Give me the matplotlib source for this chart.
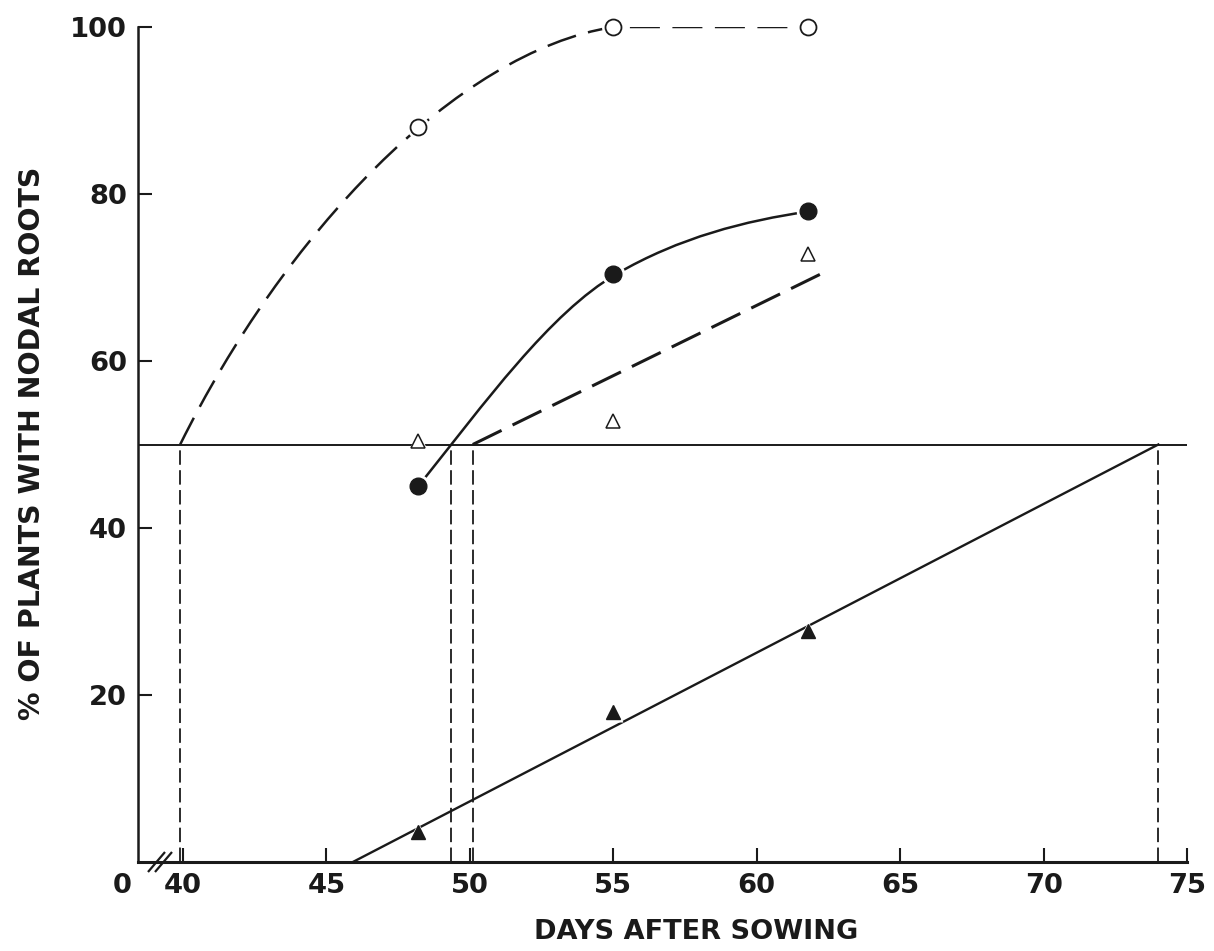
import matplotlib
matplotlib.use("Agg")
import matplotlib.pyplot as plt
from matplotlib.path import Path
from matplotlib.patches import PathPatch

# ---------------- data ----------------
days_measured = [48.2, 55.0, 61.8]
open_circle_pct = [88.0, 100.0, 100.0]
filled_circle_pct = [45.0, 70.4, 78.0]
open_triangle_pct = [50.4, 52.8, 72.8]
filled_triangle_pct = [3.6, 18.0, 27.7]

x_ticks = [40, 45, 50, 55, 60, 65, 70, 75]
y_ticks = [20, 40, 60, 80, 100]

threshold_pct = 50
days_to_50pct = [39.9, 49.35, 50.1, 74.0]

# fitted curves (Bezier control points, data units)
open_circle_curve_x = [39.9, 43.5, 49.5, 55.0, 61.8]
open_circle_curve_y = [50.0, 75.0, 97.0, 100.0, 100.0]
filled_circle_curve_x = [48.2, 50.5, 52.8, 55.1, 57.3, 59.6, 61.8]
filled_circle_curve_y = [45.0, 54.9, 65.8, 70.4, 74.8, 76.8, 77.9]
open_triangle_line_x = [50.1, 62.4]
open_triangle_line_y = [50.0, 70.7]
filled_triangle_line_x = [45.92, 74.0]
filled_triangle_line_y = [0.0, 50.0]

x_label = "DAYS AFTER SOWING"
y_label = "% OF PLANTS WITH NODAL ROOTS"

# ---------------- figure ----------------
INK = "#1a1a1a"
plt.rcParams["font.family"] = ["DejaVu Sans"]
plt.rcParams["font.weight"] = "bold"

fig = plt.figure(figsize=(12.14, 9.51), dpi=100)
ax = fig.add_axes([138 / 1214, 89 / 951, 1049 / 1214, 835 / 951])
ax.set_xlim(38.43, 75)
ax.set_ylim(0, 100)

for s in ["top", "right"]:
    ax.spines[s].set_visible(False)
ax.spines["left"].set_linewidth(1.8)
ax.spines["bottom"].set_linewidth(2.2)
ax.spines["left"].set_color(INK)
ax.spines["bottom"].set_color(INK)

ax.set_xticks(x_ticks)
ax.set_xticklabels([str(t) for t in x_ticks])
ax.set_yticks(y_ticks)
ax.set_yticklabels([str(t) for t in y_ticks])
ax.tick_params(axis="both", direction="in", length=10, width=1.5, color=INK,
               labelsize=19.7, labelcolor=INK, pad=8)

# "0" before axis break
ax.annotate("0", xy=(0, 0), xycoords="axes fraction", xytext=(-11.5, -8),
            textcoords="offset points", ha="center", va="top",
            fontsize=19.7, fontweight="bold", color=INK, annotation_clip=False)

# axis break marks //
for dx in (10, 17):
    ax.plot([dx / 1049, (dx + 17) / 1049], [-10 / 835, 10 / 835],
            transform=ax.transAxes, color=INK, lw=1.6, clip_on=False,
            solid_capstyle="butt")

# 50% reference line
ax.axhline(threshold_pct, xmin=0, xmax=1, color=INK, lw=1.4)

# vertical dashed drop lines
ax.vlines(days_to_50pct, 0, threshold_pct, colors=INK, lw=1.3,
          linestyles=[(0, (8, 3))])

# open circle fitted curve (dashed)
oc_verts = list(zip(open_circle_curve_x, open_circle_curve_y))
oc_codes = [Path.MOVETO, Path.CURVE4, Path.CURVE4, Path.CURVE4, Path.LINETO]
ax.add_patch(PathPatch(Path(oc_verts, oc_codes), fill=False, edgecolor=INK,
                       lw=1.8, linestyle=(0, (12, 5)), capstyle="butt"))

# filled circle fitted curve (solid)
fc_verts = list(zip(filled_circle_curve_x, filled_circle_curve_y))
fc_codes = [Path.MOVETO] + [Path.CURVE4] * 6
ax.add_patch(PathPatch(Path(fc_verts, fc_codes), fill=False, edgecolor=INK,
                       lw=1.8))

# open triangle line (dashed)
ax.plot(open_triangle_line_x, open_triangle_line_y, color=INK, lw=2.2,
        linestyle=(0, (10.5, 4)), dash_capstyle="butt")

# filled triangle line (solid)
ax.plot(filled_triangle_line_x, filled_triangle_line_y, color=INK, lw=1.7)

# white halos around markers (gaps in lines as in the original)
for ys, mk, size in [(open_circle_pct, "o", 11.5), (filled_circle_pct, "o", 12),
                     (open_triangle_pct, "^", 10), (filled_triangle_pct, "^", 10)]:
    ax.plot(days_measured, ys, mk, ms=size + 5, mfc="white", mec="none",
            zorder=4, clip_on=False)

# markers
ax.plot(days_measured, open_circle_pct, "o", ms=11.5, mfc="white", mec=INK,
        mew=1.3, zorder=5, clip_on=False)
ax.plot(days_measured, filled_circle_pct, "o", ms=12, mfc=INK, mec=INK,
        zorder=5)
ax.plot(days_measured, open_triangle_pct, "^", ms=10, mfc="white", mec=INK,
        mew=1.1, zorder=5)
ax.plot(days_measured, filled_triangle_pct, "^", ms=10, mfc=INK, mec=INK,
        zorder=5)

# axis titles
fig.text(696 / 1214, (951 - 932) / 951, x_label, ha="center", va="center",
         fontsize=19.5, fontweight="bold", color=INK)
fig.text(32 / 1214, (951 - 443) / 951, y_label, ha="center", va="center",
         rotation=90, fontsize=20.5, fontweight="bold", color=INK)

fig.savefig("out.png", dpi=100, facecolor="white")
